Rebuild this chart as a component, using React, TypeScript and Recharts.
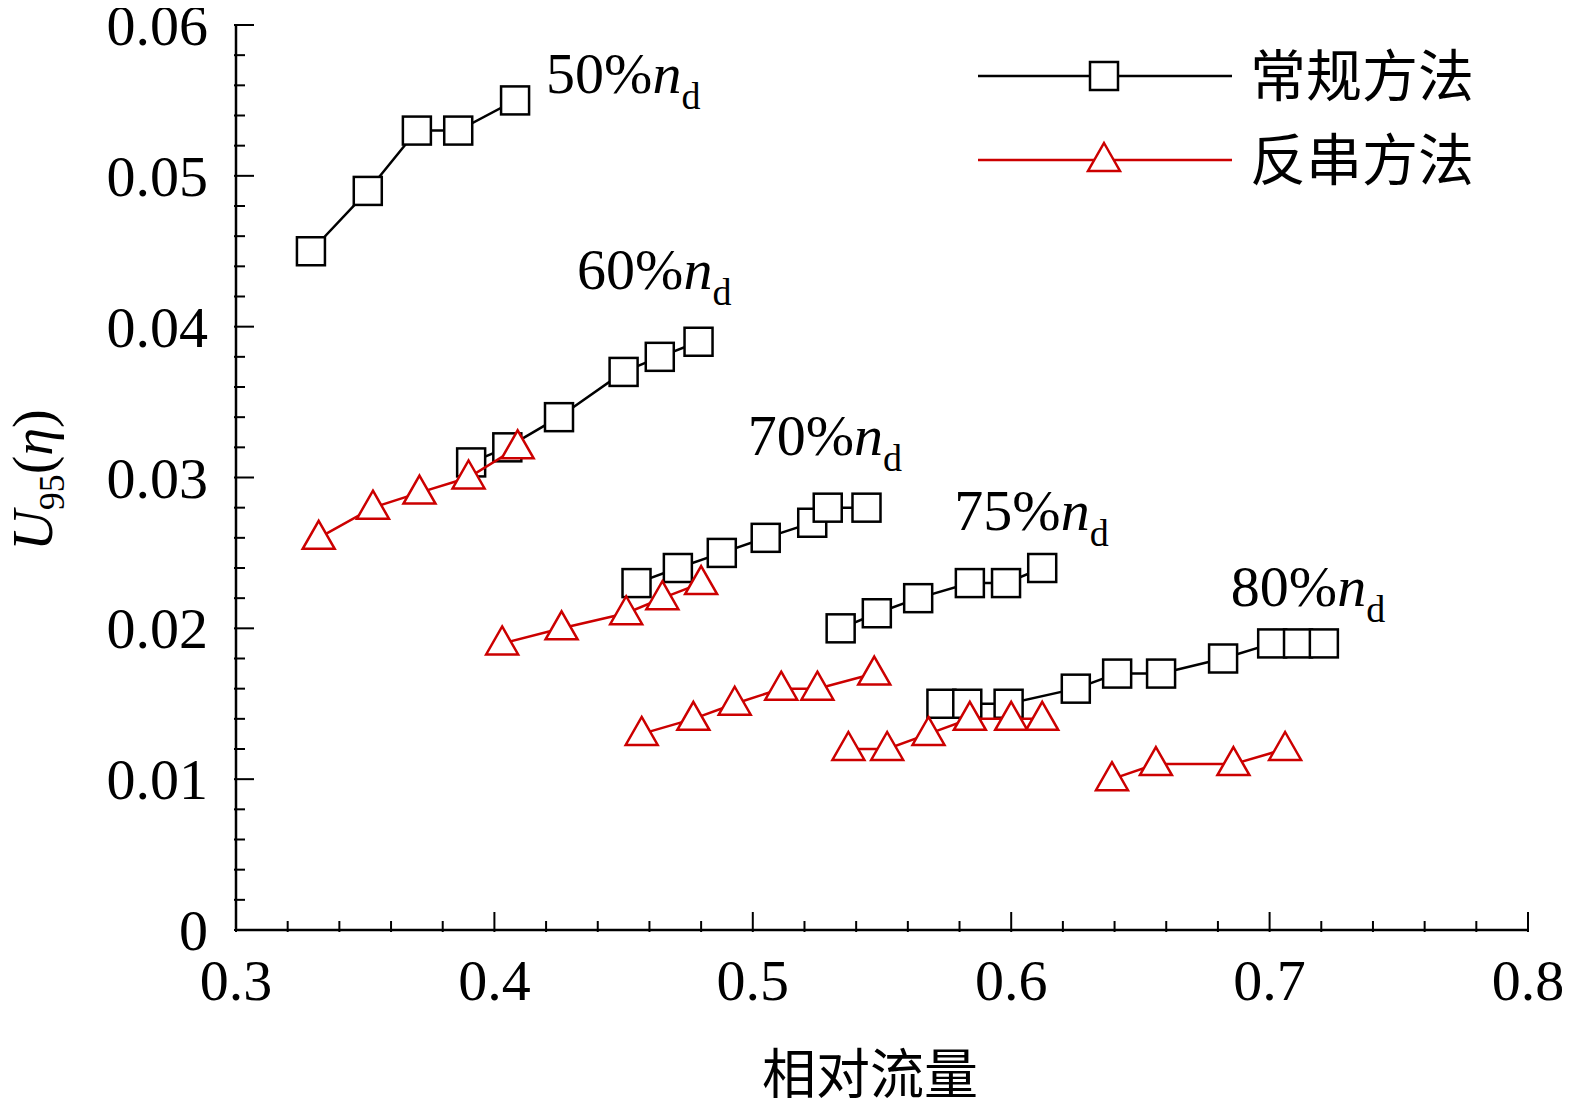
import { ComposedChart, Scatter, XAxis, YAxis, ReferenceDot, Customized } from "recharts";

const convX50 = [0.329, 0.351, 0.37, 0.386, 0.408];
const convY50 = [0.045, 0.049, 0.053, 0.053, 0.055];
const convX60 = [0.391, 0.405, 0.425, 0.45, 0.464, 0.479];
const convY60 = [0.031, 0.032, 0.034, 0.037, 0.038, 0.039];
const convX70 = [0.455, 0.471, 0.488, 0.505, 0.523, 0.529, 0.544];
const convY70 = [0.023, 0.024, 0.025, 0.026, 0.027, 0.028, 0.028];
const convX75 = [0.534, 0.548, 0.564, 0.584, 0.598, 0.612];
const convY75 = [0.02, 0.021, 0.022, 0.023, 0.023, 0.024];
const convX80 = [0.573, 0.583, 0.599, 0.625, 0.641, 0.658, 0.682, 0.701, 0.711, 0.721];
const convY80 = [0.015, 0.015, 0.015, 0.016, 0.017, 0.017, 0.018, 0.019, 0.019, 0.019];

const invX60 = [0.332, 0.353, 0.371, 0.39, 0.409];
const invY60 = [0.026, 0.028, 0.029, 0.03, 0.032];
const invX70 = [0.403, 0.426, 0.451, 0.465, 0.48];
const invY70 = [0.019, 0.02, 0.021, 0.022, 0.023];
const invX75 = [0.457, 0.477, 0.493, 0.511, 0.525, 0.547];
const invY75 = [0.013, 0.014, 0.015, 0.016, 0.016, 0.017];
const invX80 = [0.537, 0.552, 0.568, 0.584, 0.6, 0.612];
const invY80 = [0.012, 0.012, 0.013, 0.014, 0.014, 0.014];
const invX85 = [0.639, 0.656, 0.686, 0.706];
const invY85 = [0.01, 0.011, 0.011, 0.012];

const labels = [
  { text: "50%", x: 0.42, y: 0.0555 },
  { text: "60%", x: 0.432, y: 0.0425 },
  { text: "70%", x: 0.498, y: 0.0315 },
  { text: "75%", x: 0.578, y: 0.0265 },
  { text: "80%", x: 0.685, y: 0.0215 },
];

const xTicks = [0.3, 0.4, 0.5, 0.6, 0.7, 0.8];
const yTicks = [0, 0.01, 0.02, 0.03, 0.04, 0.05, 0.06];
const xMinor = Array.from({ length: 26 }, (_, i) => +(0.3 + i * 0.02).toFixed(2));
const yMinor = Array.from({ length: 31 }, (_, i) => +(i * 0.002).toFixed(3));

const FONT = '"Liberation Serif", serif';
const CJK = '"Noto Sans CJK SC", sans-serif';
const RED = "#cc0000";

const zip = (xs: number[], ys: number[]) => xs.map((x, i) => ({ x, y: ys[i] }));

const Square = (p: any) => (
  <rect x={p.cx - 14} y={p.cy - 14} width={28} height={28} fill="#fff" stroke="#000" strokeWidth={2.5} />
);
const Tri = (p: any) => (
  <path d={`M${p.cx},${p.cy - 17} L${p.cx + 16},${p.cy + 11} L${p.cx - 16},${p.cy + 11} Z`} fill="#fff" stroke={RED} strokeWidth={2.5} />
);

const isMajor = (v: number, list: number[]) => list.some((t) => Math.abs(t - v) < 1e-9);

const XTick = (p: any) => {
  const v = p.payload.value;
  const major = isMajor(v, xTicks);
  return (
    <g>
      <line x1={p.x} x2={p.x} y1={p.y - 6} y2={p.y - 6 - (major ? 20 : 11)} stroke="#000" strokeWidth={2} />
      {major && (
        <text x={p.x} y={p.y + 62} textAnchor="middle" fontFamily={FONT} fontSize={58}>{String(v)}</text>
      )}
    </g>
  );
};

const YTick = (p: any) => {
  const v = p.payload.value;
  const major = isMajor(v, yTicks);
  const lx = p.x + 6;
  return (
    <g>
      <line x1={lx} x2={lx + (major ? 20 : 11)} y1={p.y} y2={p.y} stroke="#000" strokeWidth={2} />
      {major && (
        <text x={lx - 26} y={p.y + 20} textAnchor="end" fontFamily={FONT} fontSize={58}>{v === 0 ? "0" : v.toFixed(2)}</text>
      )}
    </g>
  );
};

const convSets = [zip(convX50, convY50), zip(convX60, convY60), zip(convX70, convY70), zip(convX75, convY75), zip(convX80, convY80)];
const invSets = [zip(invX60, invY60), zip(invX70, invY70), zip(invX75, invY75), zip(invX80, invY80), zip(invX85, invY85)];

const Legend = () => (
  <g>
    <line x1={978} x2={1232} y1={76} y2={76} stroke="#000" strokeWidth={2.5} />
    <rect x={1090} y={62} width={28} height={28} fill="#fff" stroke="#000" strokeWidth={2.5} />
    <text x={1250} y={96} fontFamily={CJK} fontSize={56}>常规方法</text>
    <line x1={978} x2={1232} y1={160} y2={160} stroke={RED} strokeWidth={2.5} />
    <path d="M1104,143 L1120,171 L1088,171 Z" fill="#fff" stroke={RED} strokeWidth={2.5} />
    <text x={1250} y={180} fontFamily={CJK} fontSize={56}>反串方法</text>
  </g>
);

export default function App() {
  return (
    <div style={{ margin: -8, width: 1570, height: 1106, background: "#fff", position: "relative" }}>
      <ComposedChart width={1570} height={1106} margin={{ top: 25, right: 42, bottom: 0, left: 0 }}>
        <XAxis type="number" dataKey="x" domain={[0.3, 0.8]} ticks={xMinor} interval={0} tick={<XTick />} tickLine={false} axisLine={{ stroke: "#000", strokeWidth: 2.5 }} height={176} />
        <YAxis type="number" dataKey="y" domain={[0, 0.06]} ticks={yMinor} interval={0} tick={<YTick />} tickLine={false} axisLine={{ stroke: "#000", strokeWidth: 2.5 }} width={236} />
        {convSets.map((d, i) => (
          <Scatter key={"c" + i} data={d} line={{ stroke: "#000", strokeWidth: 2.5 }} shape={<Square />} isAnimationActive={false} />
        ))}
        {invSets.map((d, i) => (
          <Scatter key={"r" + i} data={d} line={{ stroke: RED, strokeWidth: 2.5 }} shape={<Tri />} isAnimationActive={false} />
        ))}
        {labels.map((l) => (
          <ReferenceDot
            key={l.text}
            x={l.x}
            y={l.y}
            r={0}
            label={(p: any) => {
              const vb = p.viewBox;
              const cx = vb.x + (vb.width || 0) / 2;
              const cy = vb.y + (vb.height || 0) / 2;
              return (
                <text x={cx} y={cy} fontFamily={FONT} fontSize={58}>
                  {l.text}
                  <tspan fontStyle="italic">n</tspan>
                  <tspan fontSize={38} dy={16}>d</tspan>
                </text>
              );
            }}
          />
        ))}
        <Customized component={Legend} />
        <text x={870} y={1094} textAnchor="middle" fontFamily={CJK} fontSize={54}>相对流量</text>
        <text transform="translate(52,480) rotate(-90)" textAnchor="middle" fontFamily={FONT} fontSize={56}>
          <tspan fontStyle="italic">U</tspan>
          <tspan fontSize={36} dy={12}>95</tspan>
          <tspan dy={-12}>(</tspan>
          <tspan fontStyle="italic">η</tspan>
          <tspan>)</tspan>
        </text>
      </ComposedChart>
    </div>
  );
}
